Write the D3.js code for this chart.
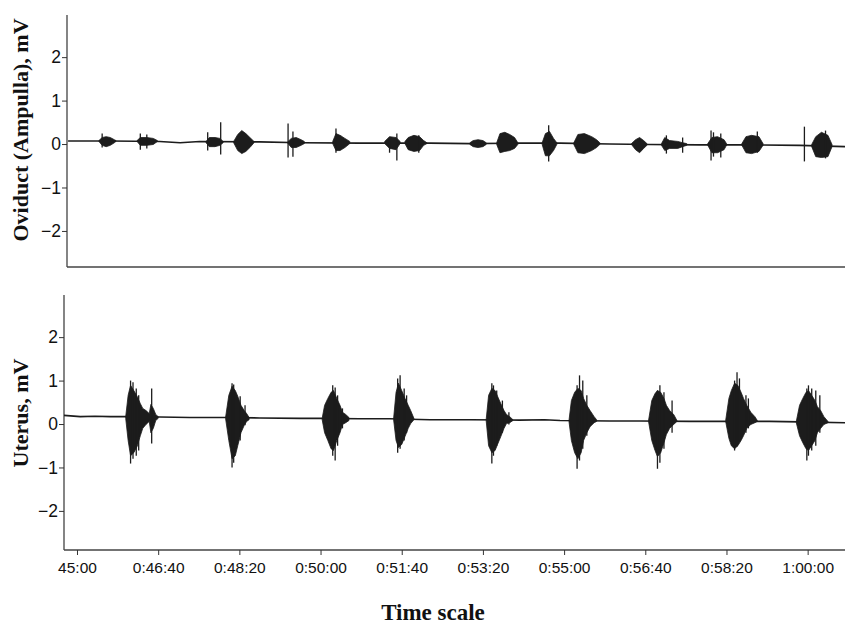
<!DOCTYPE html>
<html>
<head>
<meta charset="utf-8">
<script src="https://cdn.jsdelivr.net/npm/d3@7"></script>
<style>
  html, body { margin: 0; padding: 0; background: #fff; }
  svg { display: block; }
  .tick-label { font-family: "Liberation Sans", Arial, sans-serif; fill: #111; }
  .title { font-family: "Liberation Serif", "Times New Roman", serif; font-weight: bold; fill: #111; }
</style>
</head>
<body>
<svg id="chart" width="845" height="624"></svg>
<script>
// ---- DATA (time in seconds, values in mV) ----
const timeTicks = [2700, 2800, 2900, 3000, 3100, 3200, 3300, 3400, 3500, 3600];
const timeLabels = ["45:00", "0:46:40", "0:48:20", "0:50:00", "0:51:40", "0:53:20", "0:55:00", "0:56:40", "0:58:20", "1:00:00"];
const mvTicks = [2, 1, 0, -1, -2];

// oviduct (ampulla) baseline trace: [t, mV]
const ovBase = [
  [2689,0.07],[2741,0.07],[2802,0.06],[2827,0.03],[2851,0.06],[2925,0.05],[2975,0.03],
  [3048,0.02],[3135,0.02],[3184,0.01],[3245,0.02],[3295,0.02],[3356,0.0],[3405,-0.01],
  [3467,-0.02],[3541,-0.02],[3590,-0.03],[3646,-0.06]
];

// oviduct bursts, envelope points: [t, high, low]
const ovBursts = [
  [[2727,0.08,0.06],[2731,0.15,-0.03],[2736,0.17,-0.06],[2741,0.15,-0.03],[2746,0.10,0.03],[2748,0.08,0.06]],
  [[2774,0.08,0.06],[2778,0.15,-0.03],[2786,0.15,-0.03],[2794,0.13,-0.01],[2799,0.08,0.06]],
  [[2859,0.06,0.03],[2863,0.15,-0.06],[2870,0.15,-0.06],[2876,0.13,-0.03],[2880,0.06,0.03]],
  [[2893,0.06,0.03],[2898,0.22,-0.15],[2903,0.31,-0.22],[2908,0.24,-0.17],[2913,0.15,-0.08],[2918,0.06,0.03]],
  [[2960,0.06,0.01],[2964,0.13,-0.08],[2970,0.15,-0.08],[2976,0.10,-0.03],[2980,0.06,0.01]],
  [[3015,0.06,0.01],[3019,0.24,-0.15],[3024,0.20,-0.15],[3030,0.13,-0.08],[3036,0.06,0.01]],
  [[3079,0.06,0.01],[3085,0.17,-0.10],[3093,0.15,-0.13],[3098,0.06,0.01]],
  [[3104,0.06,0.01],[3108,0.15,-0.13],[3115,0.20,-0.17],[3122,0.17,-0.15],[3127,0.08,-0.03],[3131,0.03,0.01]],
  [[3184,0.03,-0.01],[3188,0.08,-0.06],[3194,0.10,-0.08],[3200,0.08,-0.06],[3204,0.03,-0.01]],
  [[3217,0.03,-0.01],[3221,0.24,-0.20],[3227,0.27,-0.17],[3233,0.22,-0.15],[3239,0.15,-0.10],[3243,0.03,-0.01]],
  [[3273,0.03,-0.01],[3277,0.24,-0.27],[3282,0.29,-0.27],[3287,0.13,-0.15],[3291,0.03,-0.01]],
  [[3312,0.03,-0.01],[3317,0.22,-0.20],[3325,0.24,-0.22],[3334,0.17,-0.15],[3340,0.10,-0.08],[3344,0.03,-0.01]],
  [[3383,0.01,-0.01],[3388,0.10,-0.13],[3393,0.15,-0.20],[3398,0.08,-0.10],[3402,0.01,-0.03]],
  [[3420,0.01,-0.03],[3424,0.15,-0.15],[3430,0.08,-0.10],[3440,0.06,-0.10],[3446,0.03,-0.06],[3451,0.01,-0.03]],
  [[3477,0.01,-0.03],[3482,0.15,-0.20],[3489,0.17,-0.20],[3497,0.10,-0.13],[3500,0.01,-0.03]],
  [[3519,0.01,-0.03],[3524,0.17,-0.20],[3531,0.20,-0.22],[3540,0.17,-0.17],[3545,0.01,-0.03]],
  [[3605,-0.01,-0.06],[3610,0.17,-0.29],[3617,0.27,-0.31],[3625,0.20,-0.29],[3630,-0.01,-0.06]]
];

// oviduct single spikes: [t, high, low]
const ovSpikes = [
  [2731,0.24,-0.08],[2778,0.24,-0.13],[2786,0.22,-0.10],[2861,0.27,-0.15],[2877,0.50,-0.24],
  [2960,0.47,-0.31],[2966,0.29,-0.29],[3019,0.36,-0.20],[3085,0.15,-0.20],[3094,0.24,-0.38],
  [3121,0.20,-0.20],[3281,0.43,-0.40],[3426,0.20,-0.22],[3446,0.15,-0.20],[3481,0.31,-0.38],
  [3484,0.27,-0.29],[3493,0.24,-0.31],[3538,0.29,-0.20],[3596,0.40,-0.40],[3622,0.31,-0.33]
];

// uterus baseline trace: [t, mV]
const utBase = [
  [2684,0.20],[2704,0.17],[2722,0.18],[2741,0.17],[2759,0.17],[2802,0.16],[2839,0.15],
  [2882,0.15],[2925,0.14],[2975,0.13],[2999,0.13],[3048,0.12],[3085,0.12],[3135,0.10],
  [3184,0.10],[3245,0.09],[3276,0.10],[3295,0.08],[3356,0.07],[3393,0.07],[3455,0.06],
  [3492,0.06],[3553,0.06],[3590,0.05],[3646,0.03]
];

// uterus bursts, envelope points: [t, high, low]
const utBursts = [
  [[2760,0.17,0.13],[2763,0.66,-0.38],[2766,0.89,-0.73],[2770,0.77,-0.66],[2774,0.64,-0.52],[2778,0.47,-0.27],
   [2781,0.36,-0.10],[2785,0.31,-0.01],[2789,0.24,0.06],[2791,0.45,-0.20],[2794,0.36,-0.10],[2797,0.22,0.08],[2800,0.17,0.13]],
  [[2883,0.15,0.13],[2887,0.66,-0.38],[2891,0.87,-0.80],[2895,0.77,-0.73],[2898,0.64,-0.50],[2902,0.43,-0.20],
   [2906,0.31,-0.03],[2909,0.24,0.06],[2912,0.15,0.10]],
  [[3002,0.13,0.10],[3005,0.43,-0.20],[3009,0.59,-0.38],[3013,0.73,-0.57],[3016,0.77,-0.61],[3020,0.59,-0.38],
   [3024,0.43,-0.20],[3027,0.27,-0.01],[3031,0.22,0.03],[3035,0.15,0.08]],
  [[3090,0.13,0.10],[3093,0.73,-0.38],[3096,0.94,-0.54],[3100,0.77,-0.47],[3104,0.59,-0.29],[3108,0.43,-0.10],
   [3111,0.31,0.01],[3115,0.13,0.10]],
  [[3204,0.10,0.08],[3207,0.66,-0.50],[3211,0.82,-0.66],[3215,0.77,-0.61],[3218,0.64,-0.47],[3222,0.47,-0.29],
   [3226,0.31,-0.10],[3229,0.22,0.01],[3233,0.17,0.03],[3237,0.10,0.08]],
  [[3306,0.08,0.06],[3309,0.54,-0.38],[3313,0.73,-0.66],[3317,0.82,-0.80],[3321,0.77,-0.66],[3324,0.59,-0.38],
   [3328,0.43,-0.20],[3332,0.31,-0.06],[3337,0.17,0.03],[3340,0.10,0.06]],
  [[3404,0.08,0.06],[3408,0.54,-0.38],[3412,0.70,-0.61],[3415,0.77,-0.75],[3419,0.73,-0.66],[3423,0.59,-0.43],
   [3426,0.43,-0.24],[3430,0.31,-0.10],[3435,0.22,-0.01],[3439,0.08,0.06]],
  [[3499,0.08,0.06],[3503,0.59,-0.33],[3506,0.77,-0.50],[3510,0.94,-0.57],[3514,0.89,-0.50],[3518,0.73,-0.38],
   [3521,0.59,-0.27],[3525,0.43,-0.10],[3530,0.27,-0.01],[3535,0.17,0.03],[3538,0.08,0.06]],
  [[3586,0.06,0.03],[3590,0.43,-0.27],[3594,0.59,-0.43],[3598,0.73,-0.57],[3601,0.77,-0.61],[3605,0.66,-0.50],
   [3609,0.54,-0.38],[3612,0.40,-0.20],[3616,0.31,-0.10],[3620,0.17,-0.01],[3625,0.06,0.03]]
];

// uterus single spikes: [t, high, low]
const utSpikes = [
  [2766,1.00,-0.91],[2769,0.96,-0.80],[2773,0.82,-0.73],[2776,0.66,-0.61],[2792,0.82,-0.45],
  [2891,0.94,-1.00],[2893,0.91,-0.89],[2901,0.64,-0.38],[2907,0.43,-0.03],
  [3015,0.89,-0.73],[3018,0.84,-0.84],[3021,0.66,-0.50],[3027,0.36,-0.10],
  [3095,1.05,-0.66],[3098,1.12,-0.57],[3103,0.82,-0.38],[3106,0.66,-0.20],
  [3211,0.94,-0.91],[3213,0.89,-0.73],[3217,0.77,-0.50],[3224,0.54,-0.20],[3232,0.27,-0.01],
  [3316,0.89,-1.03],[3319,1.12,-0.84],[3323,1.00,-0.57],[3328,0.66,-0.27],
  [3415,0.77,-1.03],[3418,0.89,-0.89],[3423,0.73,-0.57],[3433,0.54,-0.20],
  [3510,1.00,-0.61],[3513,1.19,-0.52],[3516,1.05,-0.38],[3524,0.66,-0.20],[3527,0.59,-0.10],
  [3599,0.82,-0.84],[3601,0.89,-0.73],[3605,0.82,-0.61],[3610,0.77,-0.50],[3615,0.66,-0.20]
];

// ---- LAYOUT ----
const svg = d3.select("#chart");
const ink = "#1c1c1c";

const x = d3.scaleLinear().domain([2684, 3646]).range([64, 845]);

const panels = [
  { name: "Oviduct (Ampulla), mV", axisX: 67, top: 15, bottom: 267, domain: [-2.83, 2.97],
    base: ovBase, bursts: ovBursts, spikes: ovSpikes, titleY: 130, showTime: false },
  { name: "Uterus, mV", axisX: 64, top: 295, bottom: 550, domain: [-2.9, 2.97],
    base: utBase, bursts: utBursts, spikes: utSpikes, titleY: 413, showTime: true }
];

panels.forEach(p => {
  const y = d3.scaleLinear().domain(p.domain).range([p.bottom, p.top]);
  const g = svg.append("g");

  // left axis line and bottom line
  g.append("line")
    .attr("x1", p.axisX).attr("x2", p.axisX)
    .attr("y1", p.top).attr("y2", p.bottom)
    .attr("stroke", "#333").attr("stroke-width", 1.2);
  g.append("line")
    .attr("x1", p.axisX).attr("x2", 845)
    .attr("y1", p.bottom).attr("y2", p.bottom)
    .attr("stroke", "#444").attr("stroke-width", 1.4);

  // y ticks
  const yAxis = g.append("g")
    .attr("transform", `translate(${p.axisX},0)`)
    .call(d3.axisLeft(y).tickValues(mvTicks).tickSize(5).tickPadding(1).tickFormat(d3.format("d")));
  yAxis.select(".domain").remove();
  yAxis.selectAll(".tick line").attr("stroke", "#333");
  yAxis.selectAll(".tick text")
    .attr("class", "tick-label")
    .attr("font-size", 17.5)
    .attr("font-family", null);

  // y title
  g.append("text")
    .attr("class", "title")
    .attr("font-size", 22)
    .attr("text-anchor", "middle")
    .attr("transform", `translate(28,${p.titleY}) rotate(-90)`)
    .text(p.name);

  // baseline trace
  const line = d3.line().x(d => x(d[0])).y(d => y(d[1]));
  g.append("path")
    .datum(p.base)
    .attr("d", line)
    .attr("fill", "none")
    .attr("stroke", ink)
    .attr("stroke-width", 1.6);

  // bursts
  const area = d3.area().x(d => x(d[0])).y0(d => y(d[2])).y1(d => y(d[1]));
  g.selectAll("path.burst")
    .data(p.bursts)
    .join("path")
    .attr("class", "burst")
    .attr("d", area)
    .attr("fill", ink)
    .attr("stroke", ink)
    .attr("stroke-width", 0.8);

  // spikes
  g.selectAll("line.spike")
    .data(p.spikes)
    .join("line")
    .attr("class", "spike")
    .attr("x1", d => x(d[0])).attr("x2", d => x(d[0]))
    .attr("y1", d => y(d[1])).attr("y2", d => y(d[2]))
    .attr("stroke", ink)
    .attr("stroke-width", 1.3);

  if (p.showTime) {
    const xAxis = g.append("g")
      .attr("transform", `translate(0,${p.bottom})`)
      .call(d3.axisBottom(x).tickValues(timeTicks).tickSize(5).tickPadding(7)
        .tickFormat((d, i) => timeLabels[i]));
    xAxis.select(".domain").remove();
    xAxis.selectAll(".tick line").attr("stroke", "#333");
    xAxis.selectAll(".tick text")
      .attr("class", "tick-label")
      .attr("font-size", 15.5)
      .attr("font-family", null);
  }
});

// x title
svg.append("text")
  .attr("class", "title")
  .attr("font-size", 23)
  .attr("text-anchor", "middle")
  .attr("x", 433)
  .attr("y", 620)
  .text("Time scale");
</script>
</body>
</html>
